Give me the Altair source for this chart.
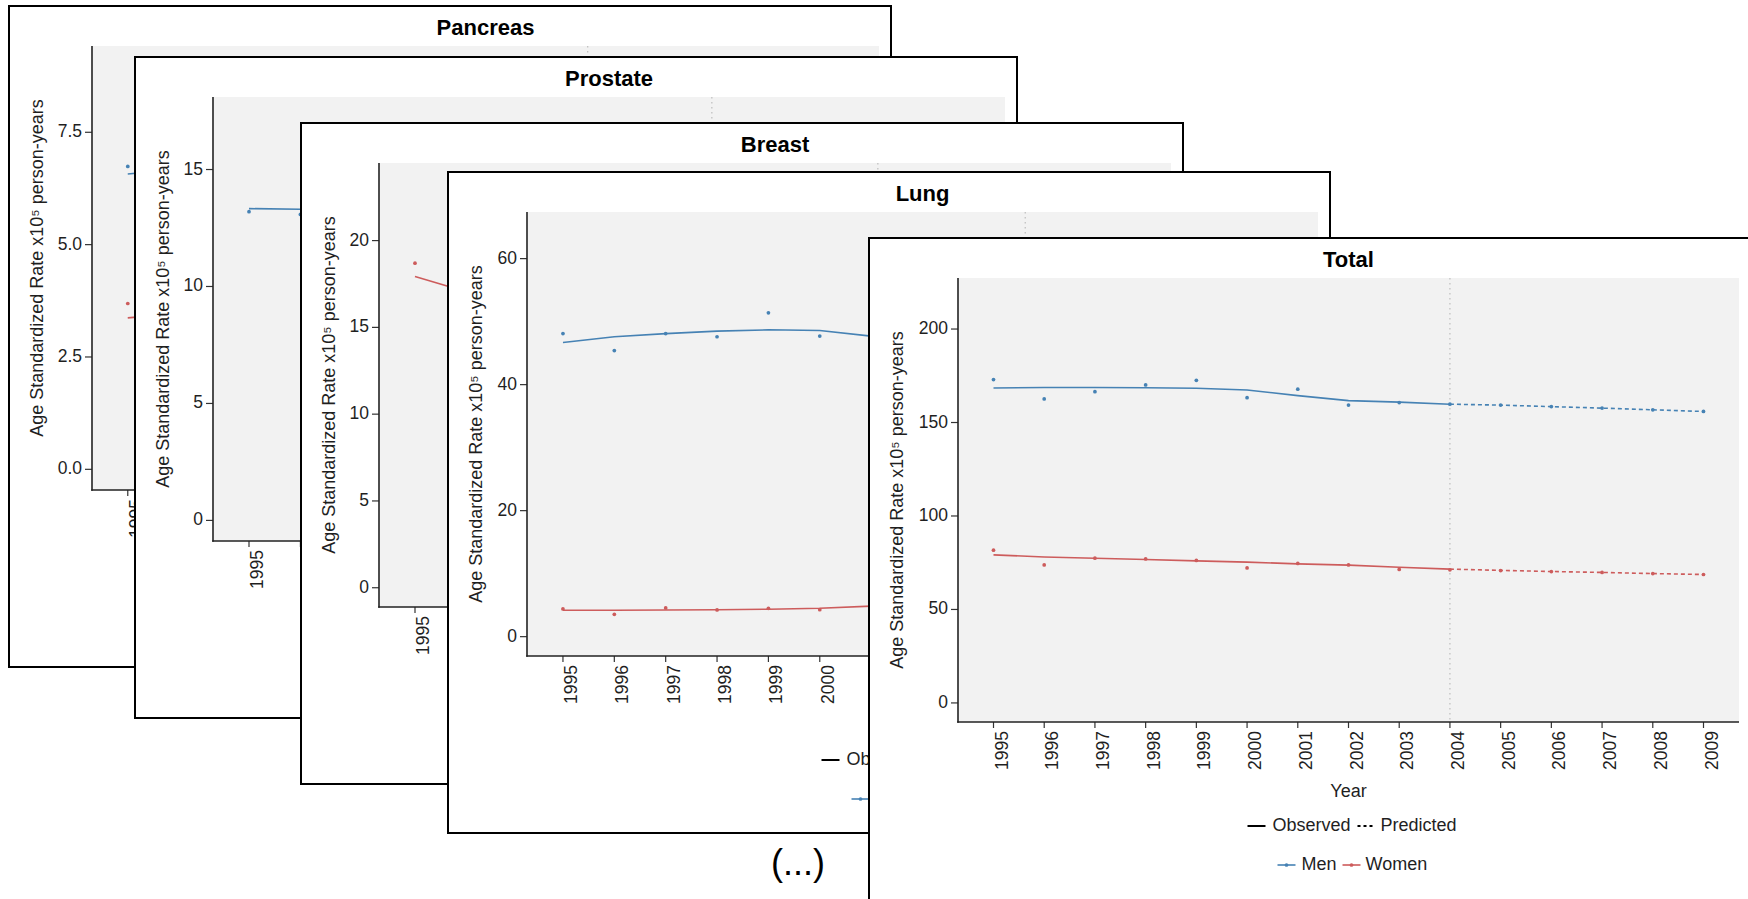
import altair as alt
import pandas as pd

W, H = 1748, 899
FW, FH = 882, 661
FONT = "Liberation Sans"
TXT = "#1f1f1f"
BLUE = "#4682B4"
RED = "#CD5C5C"
PANEL_BG = "#f2f2f2"
X_DOMAIN = [1994.3, 2009.7]
YEARS = list(range(1995, 2010))
Y_TITLE = "Age Standardized Rate x10\u2075 person-years"

# ---------------- data ----------------
# Pancreas
PAN_YEARS = [1995, 1996]
PAN_MEN_OBS = [6.74, 6.45]
PAN_MEN_FIT = [6.57, 6.68]
PAN_WOMEN_OBS = [3.69, 3.30]
PAN_WOMEN_FIT = [3.37, 3.47]

# Prostate
PRO_YEARS = [1995, 1996, 1997]
PRO_MEN_OBS = [13.20, 13.08, 13.40]
PRO_MEN_FIT = [13.33, 13.30, 13.26]

# Breast
BRE_YEARS = [1995, 1996]
BRE_WOMEN_OBS = [18.70, 17.60]
BRE_WOMEN_FIT = [17.93, 17.05]

# Lung
LUNG_OBS_YEARS = [1995, 1996, 1997, 1998, 1999, 2000]
LUNG_FIT_YEARS = [1995, 1996, 1997, 1998, 1999, 2000, 2001, 2002]
LUNG_MEN_OBS = [48.1, 45.4, 48.1, 47.6, 51.4, 47.7]
LUNG_MEN_FIT = [46.7, 47.6, 48.1, 48.5, 48.7, 48.6, 47.7, 47.0]
LUNG_WOMEN_OBS = [4.40, 3.55, 4.56, 4.24, 4.50, 4.29]
LUNG_WOMEN_FIT = [4.20, 4.20, 4.22, 4.26, 4.35, 4.50, 4.85, 5.20]

# Total
TOT_POINT_YEARS = list(range(1995, 2010))
TOT_FIT_YEARS = list(range(1995, 2005))
TOT_PRED_YEARS = list(range(2004, 2010))
TOT_MEN_POINTS = [173.0, 162.6, 166.5, 170.1, 172.6, 163.3, 167.8, 159.3, 160.7, 159.8,
                  159.3, 158.5, 157.7, 156.8, 155.9]
TOT_MEN_FIT = [168.5, 168.7, 168.7, 168.6, 168.3, 167.4, 164.4, 161.7, 160.9, 159.8]
TOT_MEN_PRED = [159.8, 159.3, 158.5, 157.7, 156.8, 155.9]
TOT_WOMEN_POINTS = [81.7, 73.8, 77.4, 77.0, 76.2, 72.2, 74.6, 73.8, 71.4, 71.2,
                    70.8, 70.3, 69.8, 69.2, 68.7]
TOT_WOMEN_FIT = [79.2, 78.1, 77.4, 76.7, 76.0, 75.3, 74.4, 73.7, 72.6, 71.6]
TOT_WOMEN_PRED = [71.6, 70.9, 70.3, 69.8, 69.2, 68.7]

PANELS = [
    dict(name="Pancreas", fx=9, fy=6, left=83, ydom=[-0.46, 9.42], yticks=[0, 2.5, 5, 7.5], yfmt="{:.1f}",
         points=[(PAN_YEARS, PAN_MEN_OBS, "Men"), (PAN_YEARS, PAN_WOMEN_OBS, "Women")],
         fits=[(PAN_YEARS, PAN_MEN_FIT, "Men", "Observed"), (PAN_YEARS, PAN_WOMEN_FIT, "Women", "Observed")]),
    dict(name="Prostate", fx=135, fy=57, left=78, ydom=[-0.88, 18.1], yticks=[0, 5, 10, 15], yfmt="{:.0f}",
         points=[(PRO_YEARS, PRO_MEN_OBS, "Men")],
         fits=[(PRO_YEARS, PRO_MEN_FIT, "Men", "Observed")]),
    dict(name="Breast", fx=301, fy=123, left=78, ydom=[-1.11, 24.47], yticks=[0, 5, 10, 15, 20], yfmt="{:.0f}",
         points=[(BRE_YEARS, BRE_WOMEN_OBS, "Women")],
         fits=[(BRE_YEARS, BRE_WOMEN_FIT, "Women", "Observed")]),
    dict(name="Lung", fx=448, fy=172, left=79, ydom=[-3.07, 67.4], yticks=[0, 20, 40, 60], yfmt="{:.0f}",
         points=[(LUNG_OBS_YEARS, LUNG_MEN_OBS, "Men"), (LUNG_OBS_YEARS, LUNG_WOMEN_OBS, "Women")],
         fits=[(LUNG_FIT_YEARS, LUNG_MEN_FIT, "Men", "Observed"), (LUNG_FIT_YEARS, LUNG_WOMEN_FIT, "Women", "Observed")]),
    dict(name="Total", fx=869, fy=238, left=89, ydom=[-10.2, 227.3], yticks=[0, 50, 100, 150, 200], yfmt="{:.0f}",
         points=[(TOT_POINT_YEARS, TOT_MEN_POINTS, "Men"), (TOT_POINT_YEARS, TOT_WOMEN_POINTS, "Women")],
         fits=[(TOT_FIT_YEARS, TOT_MEN_FIT, "Men", "Observed"), (TOT_FIT_YEARS, TOT_WOMEN_FIT, "Women", "Observed"),
               (TOT_PRED_YEARS, TOT_MEN_PRED, "Men", "Predicted"), (TOT_PRED_YEARS, TOT_WOMEN_PRED, "Women", "Predicted")]),
]

ONE = pd.DataFrame({"k": [0]})
COLOR = alt.Color("sex:N", scale=alt.Scale(domain=["Men", "Women"], range=[BLUE, RED]), legend=None)


def hrule(x1, x2, y, color, width, dash=None):
    kw = dict(color=color, strokeWidth=width, strokeCap="butt")
    if dash:
        kw["strokeDash"] = dash
    return alt.Chart(ONE).mark_rule(**kw).encode(x=alt.value(x1), x2=alt.value(x2), y=alt.value(y))


def vrule(x, y1, y2, color, width):
    return alt.Chart(ONE).mark_rule(color=color, strokeWidth=width, strokeCap="butt").encode(
        x=alt.value(x), y=alt.value(y1), y2=alt.value(y2))


def label(txt, x, y, size, align="center", weight="normal", angle=0, color=TXT):
    kw = dict(text=txt, font=FONT, fontSize=size, align=align, baseline="middle",
              color=color, fontWeight=weight)
    if angle:
        kw["angle"] = angle
    return alt.Chart(ONE).mark_text(**kw).encode(x=alt.value(x), y=alt.value(y))


def dot(x, y, color):
    return alt.Chart(ONE).mark_circle(size=14, opacity=1, color=color).encode(x=alt.value(x), y=alt.value(y))


def panel(p, extra=None):
    fx, fy = p["fx"], p["fy"]
    px0, px1 = fx + p["left"], fx + 870
    py0, py1 = fy + 40, fy + 484
    cx = (px0 + px1) / 2.0

    xs = alt.Scale(domain=X_DOMAIN, range=[px0, px1], nice=False, zero=False)
    ys = alt.Scale(domain=p["ydom"], range=[py1, py0], nice=False, zero=False)
    X = alt.X("year:Q", scale=xs, axis=None)
    Y = alt.Y("value:Q", scale=ys, axis=None)

    layers = []
    right = min(fx + FW, W)
    bottom = min(fy + FH, H)
    # frame
    layers.append(alt.Chart(ONE).mark_rect(color="white").encode(
        x=alt.value(fx), x2=alt.value(right), y=alt.value(fy), y2=alt.value(bottom)))
    layers.append(vrule(fx, fy - 1, min(fy + FH + 1, H), "black", 2))
    layers.append(hrule(fx - 1, min(fx + FW + 1, W), fy, "black", 2))
    if fx + FW <= W - 2:
        layers.append(vrule(fx + FW, fy - 1, min(fy + FH + 1, H), "black", 2))
    if fy + FH <= H - 2:
        layers.append(hrule(fx - 1, min(fx + FW + 1, W), fy + FH, "black", 2))
    # plot background
    layers.append(alt.Chart(ONE).mark_rect(color=PANEL_BG).encode(
        x=alt.value(px0), x2=alt.value(px1), y=alt.value(py0), y2=alt.value(py1)))

    # axes (drawn through the panel scales)
    xt = pd.DataFrame({"year": YEARS, "lab": [str(v) for v in YEARS]})
    yt = pd.DataFrame({"value": p["yticks"], "lab": [p["yfmt"].format(v) for v in p["yticks"]]})
    layers.append(alt.Chart(xt).mark_rule(color="#333333", strokeWidth=1.2).encode(
        x=X, y=alt.value(py1), y2=alt.value(py1 + 6)))
    layers.append(alt.Chart(xt).mark_text(font=FONT, fontSize=17.5, color=TXT, angle=270,
                                          align="right", baseline="top").encode(
        x=X, y=alt.value(py1 + 9), text="lab:N"))
    layers.append(alt.Chart(yt).mark_rule(color="#333333", strokeWidth=1.2).encode(
        y=Y, x=alt.value(px0 - 7), x2=alt.value(px0)))
    layers.append(alt.Chart(yt).mark_text(font=FONT, fontSize=17.5, color=TXT,
                                          align="right", baseline="middle").encode(
        y=Y, x=alt.value(px0 - 10), text="lab:N"))
    layers.append(vrule(px0, py0, py1 + 0.8, "#222222", 1.6))
    layers.append(hrule(px0 - 0.8, px1, py1, "#222222", 1.6))

    # vertical reference at 2004
    layers.append(alt.Chart(pd.DataFrame({"year": [2004]})).mark_rule(
        color="#bdbdbd", strokeWidth=1.2, strokeDash=[1.5, 3.5]).encode(
        x=X, y=alt.value(py0), y2=alt.value(py1 - 1)))

    # lines
    rows = []
    for yrs, vals, sex, kind in p["fits"]:
        for yv, v in zip(yrs, vals):
            rows.append(dict(year=yv, value=v, sex=sex, kind=kind))
    lines = pd.DataFrame(rows)
    obs = lines[lines["kind"] == "Observed"]
    pred = lines[lines["kind"] == "Predicted"]
    if len(obs):
        layers.append(alt.Chart(obs).mark_line(strokeWidth=1.6).encode(x=X, y=Y, color=COLOR))
    if len(pred):
        layers.append(alt.Chart(pred).mark_line(strokeWidth=1.6, strokeDash=[4, 3]).encode(x=X, y=Y, color=COLOR))

    # points
    prow = []
    for yrs, vals, sex in p["points"]:
        for yv, v in zip(yrs, vals):
            prow.append(dict(year=yv, value=v, sex=sex))
    pts = pd.DataFrame(prow)
    layers.append(alt.Chart(pts).mark_circle(size=14, opacity=1).encode(x=X, y=Y, color=COLOR))

    # texts
    layers.append(label(p["name"], cx, fy + 22, 22, weight="bold", color="black"))
    layers.append(label(Y_TITLE, fx + 29, (py0 + py1) / 2.0, 18, angle=270))
    layers.append(label("Year", cx, fy + 554, 18))

    # legend row 1
    ly1, ly2 = fy + 588, fy + 627
    layers.append(hrule(cx - 101, cx - 83, ly1, "black", 2))
    layers.append(label("Observed", cx - 76, ly1, 18, align="left"))
    layers.append(hrule(cx + 9, cx + 25, ly1, "black", 2, dash=[3, 3]))
    layers.append(label("Predicted", cx + 32, ly1, 18, align="left"))
    # legend row 2
    layers.append(hrule(cx - 71, cx - 53, ly2, BLUE, 1.6))
    layers.append(dot(cx - 62, ly2, BLUE))
    layers.append(label("Men", cx - 47, ly2, 18, align="left"))
    layers.append(hrule(cx - 6, cx + 12, ly2, RED, 1.6))
    layers.append(dot(cx + 3, ly2, RED))
    layers.append(label("Women", cx + 17, ly2, 18, align="left"))

    if extra:
        layers.extend(extra)

    return alt.layer(*layers)


panels = []
for i, p in enumerate(PANELS):
    extra = None
    if i == len(PANELS) - 1:
        extra = [label("(...)", 798, 864, 36, color="black")]
    panels.append(panel(p, extra))

chart = (
    alt.layer(*panels)
    .resolve_scale(x="independent", y="independent")
    .properties(width=W, height=H, padding=0, background="white",
                autosize=alt.AutoSizeParams(type="none"))
    .configure_view(stroke="transparent", strokeWidth=0)
)

chart.save("out.html", embed_options={"renderer": "svg", "actions": False})
